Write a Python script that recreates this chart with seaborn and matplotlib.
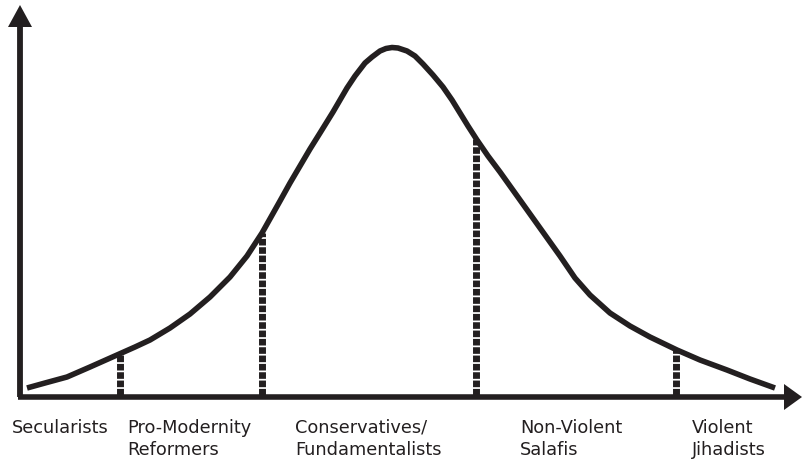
import matplotlib
matplotlib.use("Agg")
import matplotlib.pyplot as plt
import seaborn as sns
import pandas as pd

# ---- data (x = position along the spectrum, y = height above the axis) ----
curve_x = [7, 25, 47, 70, 97, 115, 130, 150, 170, 190, 210, 227, 242, 251,
           260, 270, 280, 290, 300, 313, 320, 327, 335, 345, 352, 360, 366,
           372, 378, 387, 395, 403, 413, 423, 432, 440, 448, 457, 468, 480,
           500, 520, 540, 555, 570, 590, 610, 630, 657, 680, 707, 730, 755]
curve_y = [9, 14, 20, 30, 42, 50, 57, 69, 83, 100, 120, 141, 164, 180,
           196, 214, 231, 248, 264, 285, 297, 309, 321, 334, 340, 346, 348.5,
           349.5, 349, 346, 341, 333, 322, 310, 297, 284, 271, 257, 241, 225,
           197, 169, 141, 119, 102, 84, 71, 60, 47, 37, 27, 18, 9]

divider_x = [100, 242, 456, 656]
divider_y = [44, 164, 258, 47]

categories = ["Secularists", "Pro-Modernity\nReformers",
              "Conservatives/\nFundamentalists", "Non-Violent\nSalafis",
              "Violent\nJihadists"]
label_x = [-8, 107, 275, 500, 672]

INK = "#231f20"

sns.set_theme(style="white")
plt.rcParams["font.family"] = ["DejaVu Sans"]

fig = plt.figure(figsize=(8.02, 4.59), dpi=100)
ax = fig.add_axes([0, 0, 1, 1])

# axes with arrows
ax.plot([0, 0], [0, 372], color=INK, lw=4.2, solid_capstyle="butt")
ax.fill([-12, 12, 0], [370, 370, 392], color=INK, lw=0)
ax.plot([-2, 766], [0, 0], color=INK, lw=4.0, solid_capstyle="butt")
ax.fill([764, 764, 782], [-13, 13, 0], color=INK, lw=0)

# dotted dividers
ax.vlines(divider_x, 2, divider_y, colors=INK, lw=5.0,
          linestyles=[(0, (0.95, 0.25))], capstyle="butt")

# bell curve
df = pd.DataFrame({"x": curve_x, "y": curve_y})
sns.lineplot(data=df, x="x", y="y", ax=ax, color=INK, lw=4.0, sort=False)
line = ax.lines[-1]
line.set_solid_capstyle("butt")
line.set_solid_joinstyle("round")

ax.set_xlim(-20, 782)
ax.set_ylim(-62, 397)
ax.axis("off")

for cat, lx in zip(categories, label_x):
    for i, txt in enumerate(cat.split("\n")):
        ax.text(lx, -36 - 22 * i, txt, fontsize=12.8, color=INK,
                ha="left", va="baseline")

fig.savefig("out.png", dpi=100)
